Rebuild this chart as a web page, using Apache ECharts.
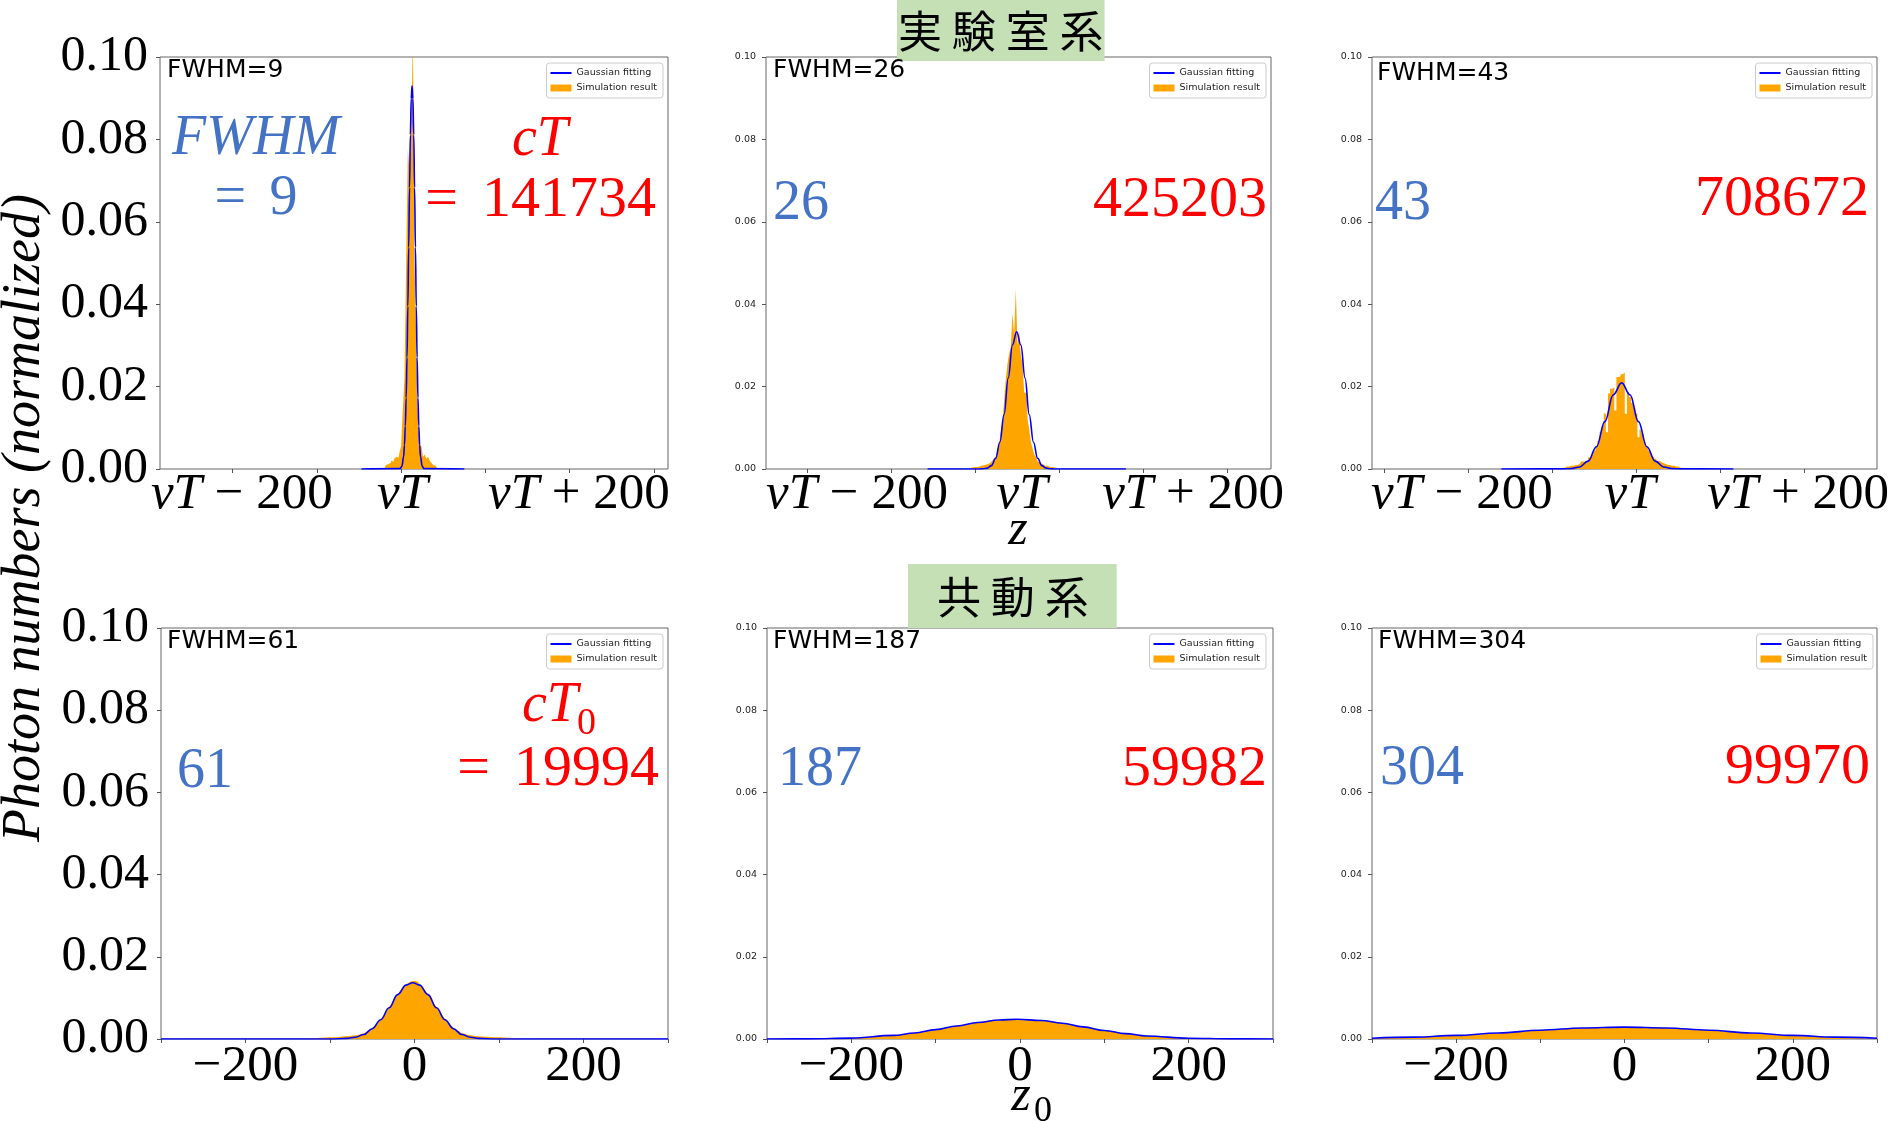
<!DOCTYPE html>
<html>
<head>
<meta charset="utf-8">
<script src="https://cdn.jsdelivr.net/npm/echarts@6/dist/echarts.min.js"></script>
<style>
html, body { margin: 0; padding: 0; background: #fff; }
#chart { width: 1897px; height: 1121px; }
</style>
</head>
<body>
<div id="chart"></div>
<script>
// x is measured from the label position (vT or 0), in the same units as the ticks

// lab frame, cT = 141734
var hist1X = [-30, -28, -26, -24, -22, -20, -18, -16, -14, -12, -10, -8, -6, -4, -2, 0, 2, 4, 6, 8, 10, 12, 14, 16, 18, 20, 22, 24, 26, 28, 30, 32];
var hist1Y = [0.0005, 0.001, 0.0012, 0.0015, 0.002, 0.0018, 0.0025, 0.003, 0.0028, 0.004, 0.0055, 0.0145, 0.022, 0.05, 0.0777, 0.0722, 0.0832, 0.105, 0.05, 0.031, 0.0126, 0.006, 0.0055, 0.003, 0.0035, 0.0025, 0.003, 0.002, 0.0015, 0.001, 0.0008, 0.0005];
var fit1X = [-58, -12, -10, -8, -7, -6, -5, -4, -3, -2, -1, 0, 1, 2, 3, 4, 5, 6, 7, 8, 9, 10, 11, 12, 14, 16, 64];
var fit1Y = [0, 0.0001, 0.0007, 0.003, 0.0058, 0.0104, 0.0173, 0.0271, 0.0395, 0.0538, 0.0683, 0.0811, 0.0899, 0.093, 0.0899, 0.0811, 0.0683, 0.0538, 0.0395, 0.0271, 0.0173, 0.0104, 0.0058, 0.003, 0.0007, 0.0001, 0];

// lab frame, cT = 425203
var hist2X = [-64, -60, -56, -52, -48, -44, -42, -40, -38, -36, -34, -32, -30, -28, -26, -24, -22, -20, -18, -16, -14, -12, -10, -8, -6, -4, -2, 0, 2, 4, 6, 8, 10, 12, 14, 16, 18, 20, 22, 24, 26, 28, 32, 36, 40];
var hist2Y = [0.0003, 0.0005, 0.0005, 0.0008, 0.001, 0.0012, 0.0015, 0.0012, 0.002, 0.0025, 0.003, 0.0045, 0.006, 0.009, 0.011, 0.0165, 0.0215, 0.0255, 0.028, 0.0296, 0.0378, 0.0325, 0.0436, 0.030, 0.0335, 0.0275, 0.0255, 0.0185, 0.0185, 0.012, 0.0095, 0.0065, 0.005, 0.0035, 0.003, 0.0018, 0.0015, 0.0012, 0.0012, 0.0008, 0.0008, 0.0005, 0.0004, 0.0003, 0.0002];
var fit2X = [-116, -55, -50, -45, -40, -35, -30, -25, -20, -15, -10, -5, 0, 5, 10, 15, 20, 25, 30, 35, 120];
var fit2Y = [0, 0, 0.00005, 0.00022, 0.00083, 0.0026, 0.0065, 0.0132, 0.0221, 0.0301, 0.0333, 0.0301, 0.0221, 0.0132, 0.0065, 0.0026, 0.00083, 0.00022, 0.00005, 0, 0];

// lab frame, cT = 708672
var hist3X = [-80, -75, -70, -65, -60, -56, -52, -48, -45, -42.5, -40, -37.5, -35, -32.5, -30, -27.5, -25, -22.5, -20, -17.5, -15, -12.5, -10, -7.5, -5, -2.5, 0, 2.5, 5, 7.5, 10, 12.5, 15, 17.5, 20, 22.5, 25, 27.5, 30, 32.5, 35, 37.5, 40, 45, 50, 55, 60, 65];
var hist3Y = [0.0003, 0.0006, 0.0008, 0.001, 0.0012, 0.0018, 0.002, 0.0028, 0.0035, 0.0045, 0.0055, 0.0068, 0.009, 0.0105, 0.0135, 0.0089, 0.0183, 0.0195, 0.0198, 0.0142, 0.0223, 0.0225, 0.023, 0.0234, 0.0134, 0.0186, 0.0175, 0.016, 0.0148, 0.0135, 0.0077, 0.0095, 0.0085, 0.0065, 0.0053, 0.0045, 0.0037, 0.003, 0.0025, 0.002, 0.0018, 0.0015, 0.0012, 0.001, 0.0008, 0.0006, 0.0003, 0.0002];
var fit3X = [-153, -80, -70, -60, -50, -40, -30, -20, -10, 0, 10, 20, 30, 40, 50, 60, 123];
var fit3Y = [0, 0.00003, 0.0001, 0.0005, 0.0019, 0.0054, 0.0115, 0.018, 0.0209, 0.018, 0.0115, 0.0054, 0.0019, 0.0005, 0.0001, 0.00003, 0];

// comoving frame, cT0 = 19994
var hist4X = [-130, -120, -110, -100, -90, -80, -70, -60, -50, -40, -30, -20, -10, 0, 10, 20, 30, 40, 50, 60, 70, 80, 90, 100, 110, 120, 130];
var hist4Y = [0.0001, 0.0002, 0.0003, 0.0004, 0.0005, 0.0007, 0.0009, 0.0014, 0.0026, 0.0048, 0.0078, 0.0109, 0.0133, 0.0142, 0.0125, 0.0097, 0.0066, 0.004, 0.0022, 0.0012, 0.0008, 0.0006, 0.0005, 0.0004, 0.0003, 0.0002, 0.0001];
var fit4X = [-300, -100, -80, -70, -60, -50, -40, -30, -20, -10, -2, 6, 16, 26, 36, 46, 56, 66, 76, 96, 300];
var fit4Y = [0, 0, 0.00014, 0.00043, 0.0011, 0.0025, 0.0047, 0.0076, 0.0108, 0.0131, 0.0137, 0.0131, 0.0108, 0.0076, 0.0047, 0.0025, 0.0011, 0.00043, 0.00014, 0, 0];

// comoving frame, cT0 = 59982
var hist5X = [-250, -200, -175, -150, -125, -100, -75, -50, -25, 0, 25, 50, 75, 100, 125, 150, 175, 200, 250];
var hist5Y = [0.00005, 0.0003, 0.0005, 0.0009, 0.0015, 0.0023, 0.0032, 0.0041, 0.0046, 0.0048, 0.0045, 0.0039, 0.003, 0.0021, 0.0013, 0.0008, 0.0004, 0.0002, 0.00005];
var fit5X = [-300, -250, -200, -150, -125, -100, -75, -50, -25, -3, 25, 50, 75, 100, 125, 150, 200, 250, 300];
var fit5Y = [0, 0.00004, 0.00022, 0.00087, 0.00147, 0.00228, 0.00318, 0.00402, 0.00461, 0.0048, 0.00451, 0.00384, 0.00296, 0.00207, 0.00131, 0.00074, 0.00018, 0.00003, 0];

// comoving frame, cT0 = 99970
var hist6X = [-300, -250, -200, -150, -100, -50, 0, 50, 100, 150, 200, 250, 300];
var hist6Y = [0.0001, 0.0004, 0.0008, 0.0014, 0.0021, 0.0027, 0.0029, 0.0027, 0.0021, 0.0014, 0.0008, 0.0004, 0.0001];
var fit6X = [-300, -250, -200, -150, -100, -50, 0, 50, 100, 150, 200, 250, 300];
var fit6Y = [0.0002, 0.00045, 0.00087, 0.00147, 0.00214, 0.00269, 0.0029, 0.00269, 0.00214, 0.00147, 0.00087, 0.00045, 0.0002];

var fwhmValues = [9, 26, 43, 61, 187, 304];
var ctValues = [141734, 425203, 708672, 19994, 59982, 99970];

var labTicks1 = [-211, -111, -11, 89, 189, 289];
var labTicks2 = [-259.5, -159.5, -59.5, 40.5, 140.5, 240.5];
var labTicks3 = [-293, -193, -93, 7, 107, 207];
var comovingTicks = [-300, -200, -100, 0, 100, 200, 300];
var tickLabelValues = [-200, 0, 200];
var labTickLabels = ['vT − 200', 'vT', 'vT + 200'];
var comovingTickLabels = ['−200', '0', '200'];
var yTicks = [0, 0.02, 0.04, 0.06, 0.08, 0.10];

var BLUE_TEXT = '#4472c4';
var RED_TEXT = '#ff0000';
var SERIF = '"Liberation Serif", "DejaVu Serif", serif';
var EQ = '= \u2006';

function zip(xs, ys) {
    return xs.map(function (x, i) { return [x, ys[i]]; });
}

var panels = [
    {histX: hist1X, histY: hist1Y, fitX: fit1X, fitY: fit1Y, min: -297, max: 305.6, ticks: labTicks1, lab: true, bigY: true,
     box: [160, 57, 508, 412], legend: [1234, 63], vtShift: 16},
    {histX: hist2X, histY: hist2Y, fitX: fit2X, fitY: fit2Y, min: -308.3, max: 292.7, ticks: labTicks2, lab: true, bigY: false,
     box: [766, 57, 505, 412], legend: [631, 63], vtShift: 6},
    {histX: hist3X, histY: hist3Y, fitX: fit3X, fitY: fit3Y, min: -307.1, max: 293.9, ticks: labTicks3, lab: true, bigY: false,
     box: [1372, 57, 505, 412], legend: [25, 63], vtShift: 0},
    {histX: hist4X, histY: hist4Y, fitX: fit4X, fitY: fit4Y, min: -300, max: 300, ticks: comovingTicks, lab: false, bigY: true,
     box: [161, 628, 507, 411], legend: [1234, 634]},
    {histX: hist5X, histY: hist5Y, fitX: fit5X, fitY: fit5Y, min: -300, max: 300, ticks: comovingTicks, lab: false, bigY: false,
     box: [767, 628, 506, 411], legend: [631, 634]},
    {histX: hist6X, histY: hist6Y, fitX: fit6X, fitY: fit6Y, min: -300, max: 300, ticks: comovingTicks, lab: false, bigY: false,
     box: [1372, 628, 505, 411], legend: [24, 634]}
];

var grid = [], xAxis = [], yAxis = [], series = [], legend = [];

panels.forEach(function (p, i) {
    grid.push({
        left: p.box[0], top: p.box[1], width: p.box[2], height: p.box[3],
        outerBoundsMode: 'none', containLabel: false,
        show: true, borderColor: '#666', borderWidth: 1, backgroundColor: 'transparent'
    });

    xAxis.push({
        type: 'value', gridIndex: i, min: p.min, max: p.max, position: 'bottom',
        splitLine: {show: false},
        axisLine: {show: false, onZero: false},
        axisTick: {show: true, customValues: p.ticks, length: 4, lineStyle: {color: '#555'}},
        axisLabel: {
            customValues: tickLabelValues,
            margin: p.lab ? 0 : 2,
            fontSize: 51,
            fontFamily: SERIF,
            color: '#000',
            formatter: function (v) {
                var k = tickLabelValues.indexOf(v);
                if (p.lab) {
                    var s = labTickLabels[k].replace('vT', '{i|vT}');
                    // the lone vT label sits a little left of its value
                    return (v === 0 && p.vtShift) ? s + '{pad|}' : s;
                }
                return comovingTickLabels[k];
            },
            rich: {
                i: {fontStyle: 'italic', fontSize: 51, fontFamily: SERIF, color: '#000'},
                pad: {width: p.vtShift || 0}
            }
        }
    });

    yAxis.push({
        type: 'value', gridIndex: i, min: 0, max: 0.1, position: 'left',
        splitLine: {show: false},
        axisLine: {show: false, onZero: false},
        axisTick: {show: true, customValues: yTicks, length: 4, lineStyle: {color: '#555'}},
        axisLabel: {
            customValues: yTicks,
            margin: p.bigY ? 12 : 10,
            fontSize: p.bigY ? 50 : 9.5,
            fontFamily: p.bigY ? SERIF : 'DejaVu Sans',
            color: p.bigY ? '#000' : '#222',
            formatter: function (v) { return v.toFixed(2); }
        }
    });

    series.push({
        name: 'Simulation result', type: 'line',
        xAxisIndex: i, yAxisIndex: i,
        data: zip(p.histX, p.histY),
        step: p.lab ? 'middle' : false,
        smooth: p.lab ? false : 0.4,
        symbol: 'none',
        color: '#ffa500',
        lineStyle: {width: 0},
        areaStyle: {color: '#ffa500', opacity: 1},
        z: 2
    });
    series.push({
        name: 'Gaussian fitting', type: 'line',
        xAxisIndex: i, yAxisIndex: i,
        data: zip(p.fitX, p.fitY),
        smooth: 0.4, smoothMonotone: 'x',
        symbol: 'none',
        color: '#0000ff',
        lineStyle: {width: 1.6, color: '#0000ff'},
        z: 3
    });

    legend.push({
        orient: 'vertical', right: p.legend[0], top: p.legend[1],
        selectedMode: false,
        itemWidth: 21, itemHeight: 7, itemGap: 5,
        padding: [5, 6, 5, 4],
        borderColor: '#ccc', borderWidth: 1, borderRadius: 3,
        backgroundColor: 'rgba(255,255,255,0.8)',
        textStyle: {fontSize: 9.5, fontFamily: 'DejaVu Sans', color: '#222'},
        data: [
            {name: 'Gaussian fitting', icon: 'path://M0,0H21V2H0Z', itemStyle: {color: '#0000ff', borderWidth: 0}},
            {name: 'Simulation result', icon: 'rect', itemStyle: {color: '#ffa500', borderWidth: 0}}
        ]
    });
});

function txt(text, x, y, font, color, align, rotation) {
    return {
        type: 'text', x: x, y: y, rotation: rotation || 0, z: 10,
        style: {
            text: text, font: font, fill: color,
            align: align, textAlign: align,
            verticalAlign: 'middle', textVerticalAlign: 'middle'
        }
    };
}

var fwhmPos = [[167, 70], [773, 70], [1377, 73], [167, 641], [773, 641], [1378, 641]];
var numFont = '56px ' + SERIF;
var bigNumFont = '58px ' + SERIF;
var itFont = 'italic 56px ' + SERIF;

var graphics = [
    txt('Photon numbers (normalized)', 25, 518, 'italic 54px ' + SERIF, '#000', 'center', Math.PI / 2),
    txt('z', 1018, 531, 'italic 50px ' + SERIF, '#000', 'center'),
    txt('z', 1021, 1097, 'italic 50px ' + SERIF, '#000', 'center'),
    txt('0', 1034, 1112, '36px ' + SERIF, '#000', 'left'),

    // first panels carry the full formulas
    txt('FWHM', 256, 139, itFont, BLUE_TEXT, 'center'),
    txt(EQ + fwhmValues[0], 256, 199, numFont, BLUE_TEXT, 'center'),
    txt('cT', 540, 140, itFont, RED_TEXT, 'center'),
    txt(EQ + ctValues[0], 656, 201, bigNumFont, RED_TEXT, 'right'),

    txt(String(fwhmValues[1]), 773, 204, numFont, BLUE_TEXT, 'left'),
    txt(String(ctValues[1]), 1267, 201, bigNumFont, RED_TEXT, 'right'),
    txt(String(fwhmValues[2]), 1375, 204, numFont, BLUE_TEXT, 'left'),
    txt(String(ctValues[2]), 1869, 200, bigNumFont, RED_TEXT, 'right'),

    txt(String(fwhmValues[3]), 177, 772, numFont, BLUE_TEXT, 'left'),
    txt('cT', 550, 706, itFont, RED_TEXT, 'center'),
    txt('0', 577, 724, '38px ' + SERIF, RED_TEXT, 'left'),
    txt(EQ + ctValues[3], 659, 770, bigNumFont, RED_TEXT, 'right'),

    txt(String(fwhmValues[4]), 778, 770, numFont, BLUE_TEXT, 'left'),
    txt(String(ctValues[4]), 1267, 770, bigNumFont, RED_TEXT, 'right'),
    txt(String(fwhmValues[5]), 1380, 769, numFont, BLUE_TEXT, 'left'),
    txt(String(ctValues[5]), 1870, 768, bigNumFont, RED_TEXT, 'right')
];

fwhmValues.forEach(function (f, i) {
    graphics.push(txt('FWHM=' + f, fwhmPos[i][0], fwhmPos[i][1], '25px "DejaVu Sans"', '#000', 'left'));
});

var chart = echarts.init(document.getElementById('chart'));
chart.setOption({
    animation: false,
    backgroundColor: '#fff',
    textStyle: {fontFamily: 'DejaVu Sans'},
    title: [
        {text: '実 験 室 系', left: 897, top: 0, backgroundColor: '#c5e0b4', padding: [9, 1, 8, 1],
         textStyle: {fontFamily: '"Noto Sans CJK JP"', fontSize: 44, lineHeight: 44, fontWeight: 'normal', color: '#000'}},
        {text: '共 動 系', left: 908, top: 564, backgroundColor: '#c5e0b4', padding: [11, 28, 9, 29],
         textStyle: {fontFamily: '"Noto Sans CJK JP"', fontSize: 44, lineHeight: 44, fontWeight: 'normal', color: '#000'}}
    ],
    grid: grid,
    xAxis: xAxis,
    yAxis: yAxis,
    legend: legend,
    series: series,
    graphic: graphics
});
</script>
</body>
</html>
